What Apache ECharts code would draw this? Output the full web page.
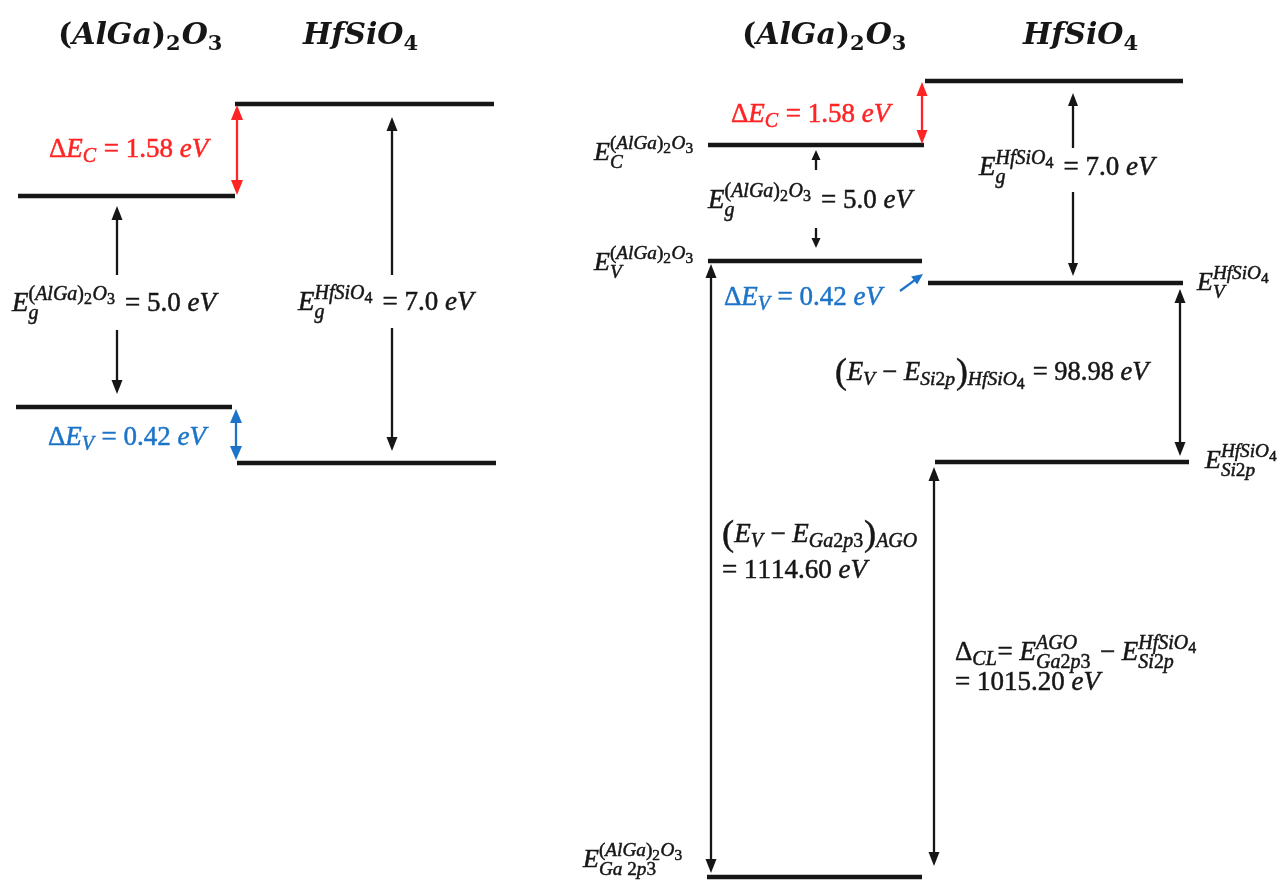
<!DOCTYPE html>
<html>
<head>
<meta charset="utf-8">
<title>(AlGa)2O3 / HfSiO4 band alignment</title>
<style>
  html, body { margin: 0; padding: 0; background: #ffffff; }
  #chart { width: 1286px; height: 886px; }
</style>
<script src="https://cdn.jsdelivr.net/npm/echarts@6/dist/echarts.min.js"></script>
</head>
<body>
<div id="chart"></div>
<script>
// ---- measured values (eV) ----
const materials = ['(AlGa)_2O_3', 'HfSiO_4'];
const bandGapsEV = [5.0, 7.0];                 // (AlGa)2O3, HfSiO4
const bandOffsetsEV = [1.58, 0.42];            // ΔE_C, ΔE_V
const vbmToCoreLevelEV = [1114.60, 98.98];     // (E_V - E_Ga2p3)_AGO, (E_V - E_Si2p)_HfSiO4
const coreLevelDeltaEV = [1015.20];            // Δ_CL

const eV = (v, d) => v.toFixed(d) + ' eV';

// ---- diagram layout (schematic, in diagram units) ----
const DIAGRAM_W = 1286, DIAGRAM_H = 886;

// horizontal energy levels: x1, y1, x2, y2
const levelSegments = [
  [18, 196, 235, 196],   // left: E_C (AlGa)2O3
  [16, 407, 232, 407],   // left: E_V (AlGa)2O3
  [235, 104, 494, 104],  // left: E_C HfSiO4
  [237, 463, 496, 463],  // left: E_V HfSiO4
  [925, 81, 1183, 81],   // right: E_C HfSiO4
  [708, 145, 924, 145],  // right: E_C (AlGa)2O3
  [708, 261, 922, 261],  // right: E_V (AlGa)2O3
  [928, 283, 1183, 283], // right: E_V HfSiO4
  [935, 462, 1189, 462], // right: Si 2p core level
  [707, 877, 922, 877]   // right: Ga 2p3 core level
];

const BLACK = '#161616', RED = '#ff2424', BLUE = '#1c74c9';

// arrows: from -> to, heads at 'end' or 'both'
const arrowSegments = [
  { p: [237, 105, 237, 195], heads: 'both', color: RED,   head: [15, 6] },
  { p: [117, 275, 117, 206], heads: 'end',  color: BLACK, head: [14, 5.5] },
  { p: [117, 330, 117, 394], heads: 'end',  color: BLACK, head: [14, 5.5] },
  { p: [392, 275, 392, 117], heads: 'end',  color: BLACK, head: [14, 5.5] },
  { p: [392, 328, 392, 451], heads: 'end',  color: BLACK, head: [14, 5.5] },
  { p: [236, 409, 236, 460], heads: 'both', color: BLUE,  head: [14, 6] },

  { p: [922, 82, 922, 144],  heads: 'both', color: RED,   head: [14, 5.5] },
  { p: [816, 170, 816, 150], heads: 'end',  color: BLACK, head: [10, 4.5] },
  { p: [816, 228, 816, 248], heads: 'end',  color: BLACK, head: [10, 4.5] },
  { p: [1073, 148, 1073, 93], heads: 'end', color: BLACK, head: [13, 5] },
  { p: [1073, 192, 1073, 276], heads: 'end', color: BLACK, head: [13, 5] },
  { p: [900, 291, 923, 274], heads: 'end',  color: BLUE,  head: [11, 5] },
  { p: [1180, 289, 1180, 456], heads: 'both', color: BLACK, head: [14, 5.5] },
  { p: [711, 264, 711, 873], heads: 'both', color: BLACK, head: [14, 5.5] },
  { p: [934, 467, 934, 866], heads: 'both', color: BLACK, head: [14, 5.5] }
];

const BODY = '"Liberation Serif", "DejaVu Serif", serif';
const TITLE = '"DejaVu Serif", "Liberation Serif", serif';

// text labels: markup, left x, baseline y
const textLabels = [
  { src: materials[0], x: 58, y: 44, size: 30, family: TITLE, bold: true },
  { src: materials[1], x: 303, y: 44, size: 30, family: TITLE, bold: true },
  { src: materials[0], x: 742, y: 44, size: 30, family: TITLE, bold: true },
  { src: materials[1], x: 1023, y: 44, size: 30, family: TITLE, bold: true },

  { src: 'ΔE_C = ' + eV(bandOffsetsEV[0], 2), x: 49, y: 157, size: 27, color: RED },
  { src: 'E_g^{' + materials[0] + '} = ' + eV(bandGapsEV[0], 1), x: 12, y: 311, size: 27 },
  { src: 'E_g^{' + materials[1] + '} = ' + eV(bandGapsEV[1], 1), x: 298, y: 310, size: 27 },
  { src: 'ΔE_V = ' + eV(bandOffsetsEV[1], 2), x: 48, y: 445, size: 27, color: BLUE },

  { src: 'ΔE_C = ' + eV(bandOffsetsEV[0], 2), x: 731, y: 122, size: 27, color: RED },
  { src: 'E_C^{' + materials[0] + '}', x: 594, y: 160, size: 26 },
  { src: 'E_g^{' + materials[0] + '} = ' + eV(bandGapsEV[0], 1), x: 708, y: 208, size: 27 },
  { src: 'E_V^{' + materials[0] + '}', x: 594, y: 270, size: 26 },
  { src: 'ΔE_V = ' + eV(bandOffsetsEV[1], 2), x: 724, y: 305, size: 27, color: BLUE },
  { src: 'E_g^{' + materials[1] + '} = ' + eV(bandGapsEV[1], 1), x: 979, y: 175, size: 27 },
  { src: 'E_V^{' + materials[1] + '}', x: 1197, y: 290, size: 26 },
  { src: '\\(E_V − E_{Si2p}\\)_{' + materials[1] + '} = ' + eV(vbmToCoreLevelEV[1], 2), x: 835, y: 380, size: 26.5 },
  { src: 'E_{Si2p}^{' + materials[1] + '}', x: 1205, y: 468, size: 26 },
  { src: '\\(E_V − E_{Ga2p3}\\)_{AGO}', x: 722, y: 542, size: 27 },
  { src: '= ' + eV(vbmToCoreLevelEV[0], 2), x: 722, y: 578, size: 27 },
  { src: 'Δ_{CL}= E_{Ga2p3}^{AGO} − E_{Si2p}^{' + materials[1] + '}', x: 955, y: 660, size: 27 },
  { src: '= ' + eV(coreLevelDeltaEV[0], 2), x: 955, y: 690, size: 27 },
  { src: 'E_{Ga 2p3}^{' + materials[0] + '}', x: 583, y: 867, size: 26 }
];

// ---- tiny math-text layout: _ / ^ scripts, \( \) tall brackets ----
const measureCtx = document.createElement('canvas').getContext('2d');
function fontStr(size, italic, bold, family) {
  return (italic ? 'italic ' : '') + (bold ? 'bold ' : '') + size.toFixed(2) + 'px ' + family;
}
function middleOffset(font, size) {
  measureCtx.font = font;
  measureCtx.textBaseline = 'middle';
  const m = measureCtx.measureText('E');
  measureCtx.textBaseline = 'alphabetic';
  if (m && isFinite(m.alphabeticBaseline)) return -m.alphabeticBaseline;
  return 0.34 * size;
}
function readGroup(src, i) {
  if (src[i] === '{') {
    let d = 1, j = i + 1;
    while (j < src.length && d) { if (src[j] === '{') d++; else if (src[j] === '}') d--; j++; }
    return { g: src.slice(i + 1, j - 1), i: j };
  }
  return { g: src[i], i: i + 1 };
}
function layoutMath(src, size, depth, opts) {
  const items = [];
  let x = 0, i = 0;
  while (i < src.length) {
    const ch = src[i];
    if (ch === '_' || ch === '^') {
      let sub = null, sup = null;
      while (i < src.length && (src[i] === '_' || src[i] === '^')) {
        const kind = src[i];
        const r = readGroup(src, i + 1);
        i = r.i;
        if (kind === '_') sub = r.g; else sup = r.g;
      }
      const s = size * (depth === 0 ? (opts.bold ? 0.7 : 0.74) : 0.8);
      let w = 0;
      if (sup !== null) {
        const L = layoutMath(sup, s, depth + 1, opts);
        const raise = size * (depth === 0 ? 0.42 : 0.3);
        L.items.forEach(it => items.push(Object.assign({}, it, { x: it.x + x, dy: it.dy - raise })));
        w = Math.max(w, L.width);
      }
      if (sub !== null) {
        const L = layoutMath(sub, s, depth + 1, opts);
        const drop = size * (sup !== null ? 0.3 : 0.2);
        L.items.forEach(it => items.push(Object.assign({}, it, { x: it.x + x, dy: it.dy + drop })));
        w = Math.max(w, L.width);
      }
      x += w + size * (sup !== null && depth === 0 ? 0.1 : 0.03);
      continue;
    }
    let c = ch, tall = false;
    if (ch === '\\') { c = src[i + 1]; tall = true; i += 2; } else { i += 1; }
    const italic = /[A-Za-z]/.test(c);
    const fs = tall ? size * 1.35 : size;
    const font = fontStr(fs, italic, opts.bold, opts.family);
    measureCtx.font = font;
    const w = measureCtx.measureText(c).width;
    items.push({ text: c, x: x, dy: tall ? size * 0.1 : 0, size: fs, font: font });
    x += w;
  }
  return { items: items, width: x };
}

const laidOut = textLabels.map(l => {
  const L = layoutMath(l.src, l.size, 0, { bold: !!l.bold, family: l.family || BODY });
  L.items.forEach(it => { it.mid = middleOffset(it.font, it.size); });
  return L;
});

// ---- chart ----
const chart = echarts.init(document.getElementById('chart'), null, { renderer: 'canvas' });

chart.setOption({
  animation: false,
  backgroundColor: '#ffffff',
  grid: { left: 0, right: 0, top: 0, bottom: 0 },
  xAxis: { type: 'value', min: 0, max: DIAGRAM_W, show: false },
  yAxis: { type: 'value', min: 0, max: DIAGRAM_H, inverse: true, show: false },
  series: [
    {
      type: 'custom',
      name: 'levels',
      silent: true,
      clip: false,
      data: levelSegments,
      encode: { x: [0, 2], y: [1, 3] },
      renderItem: function (params, api) {
        const a = api.coord([api.value(0), api.value(1)]);
        const b = api.coord([api.value(2), api.value(3)]);
        return {
          type: 'line',
          shape: { x1: a[0], y1: a[1], x2: b[0], y2: b[1] },
          style: { stroke: BLACK, lineWidth: 4.4, lineCap: 'butt' }
        };
      }
    },
    {
      type: 'custom',
      name: 'arrows',
      silent: true,
      clip: false,
      data: arrowSegments.map(a => a.p),
      encode: { x: [0, 2], y: [1, 3] },
      renderItem: function (params, api) {
        const spec = arrowSegments[params.dataIndex];
        const a = api.coord([api.value(0), api.value(1)]);
        const b = api.coord([api.value(2), api.value(3)]);
        const dx = b[0] - a[0], dy = b[1] - a[1];
        const len = Math.sqrt(dx * dx + dy * dy);
        const ux = dx / len, uy = dy / len, nx = -uy, ny = ux;
        const hl = spec.head[0], hw = spec.head[1];
        const head = (tip, sx, sy) => ({
          type: 'polygon',
          shape: { points: [
            [tip[0], tip[1]],
            [tip[0] - sx * hl + nx * hw, tip[1] - sy * hl + ny * hw],
            [tip[0] - sx * hl - nx * hw, tip[1] - sy * hl - ny * hw]
          ] },
          style: { fill: spec.color }
        });
        const start = spec.heads === 'both' ? [a[0] + ux * (hl - 2), a[1] + uy * (hl - 2)] : a;
        const end = [b[0] - ux * (hl - 2), b[1] - uy * (hl - 2)];
        const children = [{
          type: 'line',
          shape: { x1: start[0], y1: start[1], x2: end[0], y2: end[1] },
          style: { stroke: spec.color, lineWidth: 2.3 }
        }, head(b, ux, uy)];
        if (spec.heads === 'both') children.push(head(a, -ux, -uy));
        return { type: 'group', children: children };
      }
    },
    {
      type: 'custom',
      name: 'labels',
      silent: true,
      clip: false,
      data: textLabels.map(l => [l.x, l.y]),
      encode: { x: 0, y: 1 },
      renderItem: function (params, api) {
        const spec = textLabels[params.dataIndex];
        const L = laidOut[params.dataIndex];
        const p = api.coord([api.value(0), api.value(1)]);
        const col = spec.color || BLACK;
        return {
          type: 'group',
          children: L.items.map(it => ({
            type: 'text',
            style: {
              text: it.text,
              x: p[0] + it.x,
              y: p[1] + it.dy - it.mid,
              font: it.font,
              fill: col,
              stroke: spec.bold ? null : col,
              lineWidth: spec.bold ? 0 : 0.5,
              align: 'left',
              verticalAlign: 'middle'
            }
          }))
        };
      }
    }
  ]
});
</script>
</body>
</html>
